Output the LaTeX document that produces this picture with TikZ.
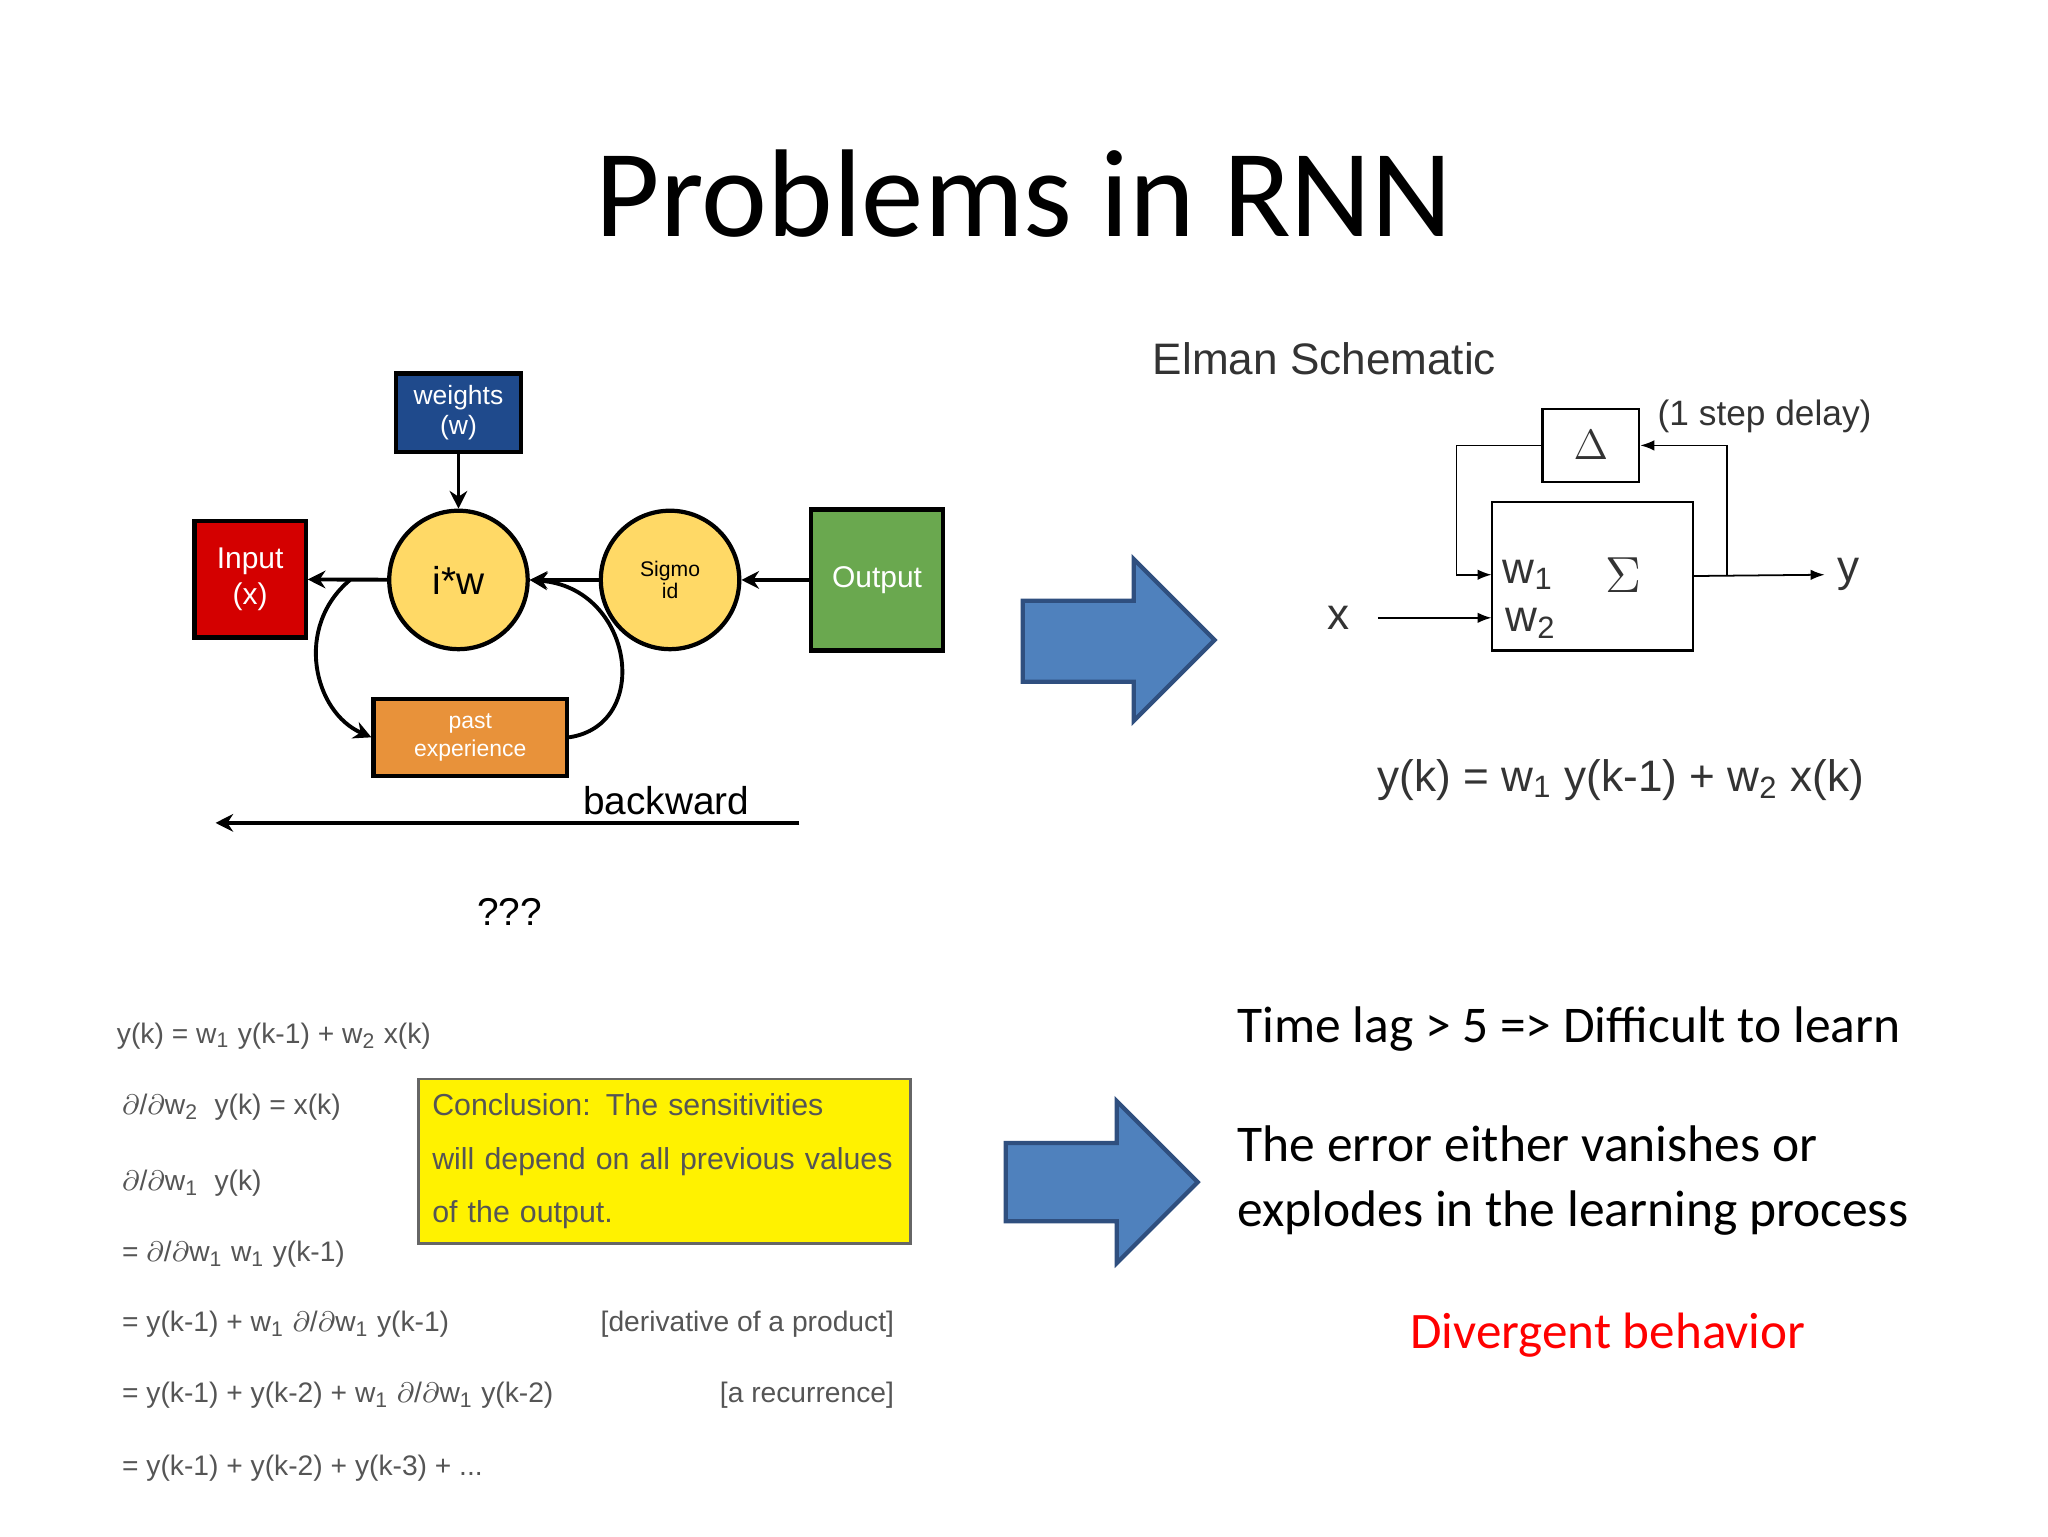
\documentclass[tikz,border=0pt]{standalone}
\usepackage{fontspec}
\setmainfont{Carlito}
\newfontfamily\arial{Liberation Sans}
\usetikzlibrary{arrows.meta}
\definecolor{wblue}{HTML}{1F4A8C}
\definecolor{inred}{HTML}{D40000}
\definecolor{cyel}{HTML}{FFD966}
\definecolor{ogreen}{HTML}{6AA84F}
\definecolor{porange}{HTML}{E8923A}
\definecolor{barrow}{HTML}{4F81BD}
\definecolor{bedge}{HTML}{2F4F7F}
\definecolor{eqgray}{HTML}{555555}
\tikzset{
  box/.style={draw=black, line width=1.2pt, text=white, align=center, inner sep=0pt, font=\arial\fontsize{7.5}{8.5}\selectfont},
  circ/.style={circle, draw=black, line width=1.2pt, fill=cyel, minimum size=106*0.3703pt, inner sep=0pt, align=center},
  arr/.style={-{Stealth[length=5pt,width=5pt]}, line width=1.1pt},
  thin/.style={-{Latex[length=4pt,width=3pt]}, line width=0.5pt},
  bigarrow/.style={draw=bedge, line width=1.2pt, fill=barrow, line join=miter},
  eq/.style={anchor=west, text=eqgray, font=\arial\fontsize{8}{9}\selectfont},
  el/.style={font=\arial\fontsize{12.5}{14}\selectfont, text=black!80},
  rt/.style={anchor=west, font=\fontsize{14.6}{18.5}\selectfont, align=left}
}
\newcommand{\sbs}[1]{\textsubscript{#1}}
\begin{document}
\begin{tikzpicture}[x=0.3703pt, y=-0.3703pt]
\useasboundingbox (0,0) rectangle (1568,1176);
\node (title) at (784,148) {\fontsize{35.4}{40}\selectfont Problems in RNN};

% left network
\node (weights) [box, fill=wblue, minimum width=96*0.3703pt, minimum height=60*0.3703pt] at (351,316) {weights\\(w)};
\node (input) [box, fill=inred, minimum width=85*0.3703pt, minimum height=89*0.3703pt, font=\arial\fontsize{8.5}{10}\selectfont] at (191.5,443.5) {Input\\(x)};
\node (iw) [circ, font=\arial\fontsize{11}{12}\selectfont] at (351,444) {i*w};
\node (sig) [circ, font=\arial\fontsize{6}{6.5}\selectfont] at (513,444) {Sigmo\\id};
\node (out) [box, fill=ogreen, minimum width=101*0.3703pt, minimum height=108*0.3703pt, font=\arial\fontsize{8.5}{10}\selectfont] at (671.5,444) {Output};
\node (past) [box, fill=porange, minimum width=148*0.3703pt, minimum height=59*0.3703pt, font=\arial\fontsize{6.5}{7.8}\selectfont] at (360,564.5) {past\\experience};
\draw[arr] (weights) -- (iw);
\draw[arr] (iw) -- (input);
\draw[arr] (sig) -- (iw);
\draw[arr] (out) -- (sig);
\coordinate (lstart) at (268,444);
\draw[arr] (lstart) .. controls (225,480) and (240,545) .. (past.west);
\draw[arr] (past.east) .. controls (500,555) and (485,450) .. (iw.east);
\coordinate (bwr) at (612,630);
\coordinate (bwl) at (165,630);
\draw[arr] (bwr) -- (bwl);
\node (bwlabel) [font=\arial\fontsize{11}{12}\selectfont] at (510,613) {backward};
\node (qqq) [font=\arial\fontsize{11}{12}\selectfont] at (390,698) {???};

% big arrows
\draw[bigarrow] (783,460) -- (868,460) -- (868,428) -- (930,490) -- (868,552) -- (868,522) -- (783,522) -- cycle;
\draw[bigarrow] (770,875) -- (855,875) -- (855,843) -- (917,905) -- (855,967) -- (855,935) -- (770,935) -- cycle;

% Elman schematic
\node (eltitle) [el] at (1014,275) {Elman Schematic};
\node (delta) [draw, line width=0.6pt, minimum width=74*0.3703pt, minimum height=56*0.3703pt, inner sep=0pt, el] at (1218,341) {$\Delta$};
\node (sum) [draw, line width=0.6pt, minimum width=154*0.3703pt, minimum height=114*0.3703pt, inner sep=0pt] at (1219,441) {};
\node (delay) [el, font=\arial\fontsize{10}{11}\selectfont] at (1351,319) {(1 step delay)};
\node (w1) [el] at (1170,440) {w\sbs{1}};
\node (w2) [el] at (1172,477) {w\sbs{2}};
\node (sigma) [el, font=\fontsize{14}{15}\selectfont] at (1243,440) {$\Sigma$};
\node (xin) [el] at (1025,473) {x};
\node (yout) [el] at (1415,440) {y};
\coordinate (w1in) at (1142,440);
\coordinate (w2in) at (1142,473);
\coordinate (branch) at (1322,441);
\draw[thin] (delta.west) -- ++(-65,0) |- (w1in);
\draw[thin] (xin.east) ++(12,0) -- (w2in);
\draw[thin] (sum.east |- branch) -- (yout.west);
\draw[thin] (branch) |- (delta.east);
\node (elmeq) [el] at (1241,597) {y(k) = w\sbs{1} y(k-1) + w\sbs{2} x(k)};

% left equations
\node (e1) [eq] at (80,793) {y(k) = w\sbs{1} y(k-1) + w\sbs{2} x(k)};
\node (e2) [eq] at (84,848) {$\partial$/$\partial$w\sbs{2}\ \ y(k) = x(k)};
\node (e3) [eq] at (84,906) {$\partial$/$\partial$w\sbs{1}\ \ y(k)};
\node (e4) [eq] at (84,960) {= $\partial$/$\partial$w\sbs{1} w\sbs{1} y(k-1)};
\node (e5) [eq] at (84,1014) {= y(k-1) + w\sbs{1} $\partial$/$\partial$w\sbs{1} y(k-1)};
\node (e6) [eq] at (84,1068) {= y(k-1) + y(k-2) + w\sbs{1} $\partial$/$\partial$w\sbs{1} y(k-2)};
\node (e7) [eq] at (84,1124) {= y(k-1) + y(k-2) + y(k-3) + ...};
\node (n5) [eq, anchor=east] at (694,1014) {[derivative of a product]};
\node (n6) [eq, anchor=east] at (694,1068) {[a recurrence]};
\node (concl) [draw=black!60, line width=0.8pt, fill=yellow, minimum width=369*0.3703pt, minimum height=116*0.3703pt, text width=355*0.3703pt, align=left, inner sep=4pt, font=\arial\fontsize{8.6}{15.3}\selectfont, text=eqgray] at (508.5,889) {Conclusion: The sensitivities\\will depend on all previous values\\of the output.};

% right text
\node (t1) [rt] at (938,788) {Time lag > 5 => Difficult to learn};
\node (t2) [rt] at (938,904) {The error either vanishes or\\explodes in the learning process};
\node (t3) [font=\fontsize{14.5}{18}\selectfont, text=red] at (1231,1022) {Divergent behavior};
\end{tikzpicture}
\end{document}
